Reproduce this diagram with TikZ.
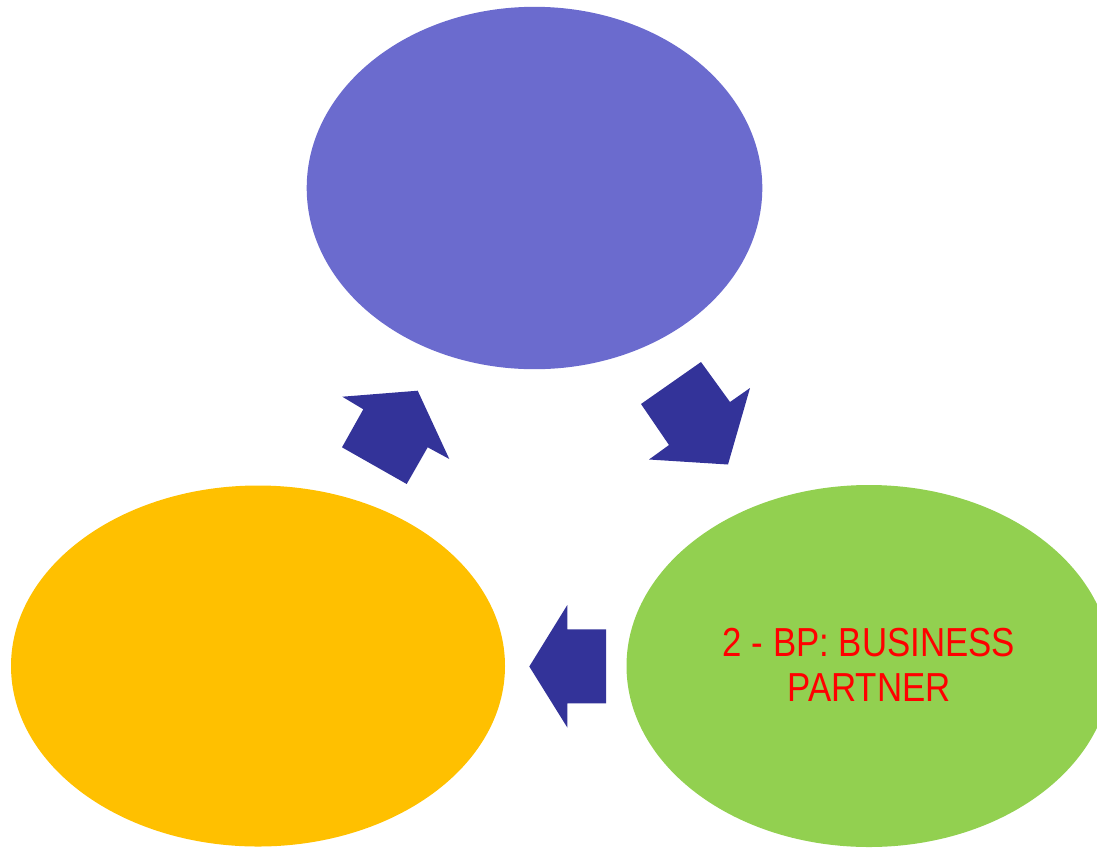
\documentclass[tikz,border=0pt]{standalone}
\usepackage{fontspec}
\setmainfont{Liberation Sans}
\usetikzlibrary{shapes.geometric}
\definecolor{cpurple}{HTML}{6B6BCE}
\definecolor{cyellow}{HTML}{FFC000}
\definecolor{cgreen}{HTML}{92D050}
\definecolor{carrow}{HTML}{333399}
\definecolor{cred}{HTML}{FF0000}
\begin{document}
\begin{tikzpicture}[x=1pt,y=-1pt,
  blob/.style={ellipse, inner sep=0pt, outer sep=0pt, draw=none},
  blockarrow/.style={fill=carrow, draw=none},
  label/.style={text=cred, font=\fontsize{40.5}{45}\selectfont, align=center, inner sep=0pt, xscale=0.86, transform shape}]
\useasboundingbox (0,0) rectangle (1097,847);
\clip (0,0) rectangle (1097,847);
\node[blob, fill=cpurple, minimum width=455.6pt, minimum height=362.4pt] (top) at (534.5,188) {};
\node[blob, fill=cyellow, minimum width=494pt, minimum height=361pt] (left) at (258,666) {};
\node[blob, fill=cgreen, minimum width=485pt, minimum height=362pt] (right) at (869,666) {};
\node[label] (bp) at (869,665) {2 - BP: BUSINESS\\PARTNER};
% arrow top -> right
\fill[blockarrow] (641,404) -- (701,362) -- (730,402) -- (750,388) -- (728,464.5) -- (649,459.5) -- (669,445) -- cycle;
% arrow right -> left
\fill[blockarrow] (606,629.3) -- (567.3,629.3) -- (567.3,605) -- (529.3,666.5) -- (567.3,727.5) -- (567.3,703.3) -- (606,703.3) -- cycle;
% arrow left -> top
\fill[blockarrow] (406.7,484) -- (342,447.3) -- (363.3,409.3) -- (342.3,396.7) -- (417.7,390.7) -- (449.3,459) -- (427.7,447.3) -- cycle;
\end{tikzpicture}
\end{document}
